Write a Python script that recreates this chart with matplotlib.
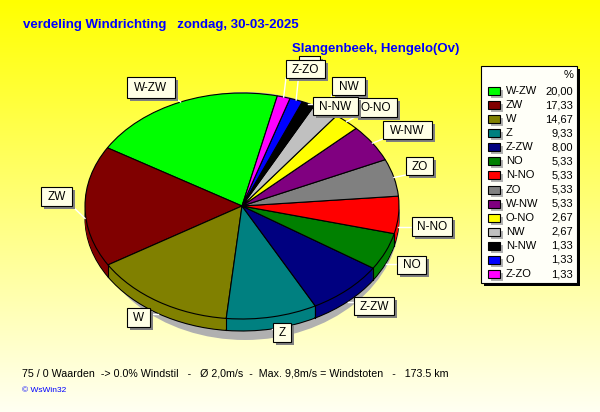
import numpy as np
import matplotlib
matplotlib.use('Agg')
import matplotlib.pyplot as plt
from matplotlib.patches import Rectangle, Ellipse

plt.rcParams['font.family'] = ['Liberation Sans', 'DejaVu Sans']

# ---------------- data ----------------
directions = ['W-ZW', 'ZW', 'W', 'Z', 'Z-ZW', 'NO', 'N-NO', 'ZO', 'W-NW',
              'O-NO', 'NW', 'N-NW', 'O', 'Z-ZO']
percent = [20.00, 17.33, 14.67, 9.33, 8.00, 5.33, 5.33, 5.33, 5.33,
           2.67, 2.67, 1.33, 1.33, 1.33]
colors = ['#00FF00', '#800000', '#808000', '#008080', '#000080', '#008000',
          '#FF0000', '#808080', '#800080', '#FFFF00', '#C0C0C0', '#000000',
          '#0000FF', '#FF00FF']
title = 'verdeling Windrichting   zondag, 30-03-2025'
subtitle = 'Slangenbeek, Hengelo(Ov)'
footer = ('75 / 0 Waarden  -> 0.0% Windstil   -   \u00d8 2,0m/s  -  '
          'Max. 9,8m/s = Windstoten   -   173.5 km')
credit = '\u00a9 WsWin32'

# ---------------- layout (pixels) ----------------
W, H = 600, 412
CX, CY, RX, RY = 242, 206, 157, 113
DEPTH = 12
START = 77
LABEL_BOX = {
    'W-ZW': (127, 77, 175, 98), 'ZW': (41, 187, 72, 206),
    'W': (127, 308, 150, 327), 'Z': (273, 323, 291, 342),
    'Z-ZW': (354, 297, 394, 315), 'NO': (397, 256, 426, 274),
    'N-NO': (412, 217, 452, 236), 'ZO': (406, 157, 433, 175),
    'W-NW': (383, 121, 432, 139), 'O-NO': (355, 98, 397, 117),
    'NW': (332, 77, 365, 95), 'N-NW': (313, 97, 358, 115),
    'O': (299, 56, 320, 72), 'Z-ZO': (286, 60, 325, 78),
}
HIDDEN_TEXT = {'O'}   # fully covered by the Z-ZO box in the reference

fig = plt.figure(figsize=(W / 100, H / 100), dpi=100)

# background gradient
axbg = fig.add_axes([0, 0, 1, 1], zorder=0)
t = np.linspace(0, 1, 256)[:, None]
top = np.array([1.0, 1.0, 0.0])
bot = np.array([1.0, 1.0, 0.95])
grad = top[None, None, :] * (1 - t[..., None]) + bot[None, None, :] * t[..., None]
grad = np.repeat(grad, 2, axis=1)
axbg.imshow(grad, aspect='auto', extent=[0, 1, 0, 1], origin='upper')
axbg.set_xlim(0, 1); axbg.set_ylim(0, 1)
axbg.axis('off')

# pie axes (unit circle stretched to ellipse)
axp = fig.add_axes([0, 0, 1, 1], zorder=1)
axp.set_facecolor('none')
axp.add_patch(Ellipse(((245 - CX) / RX, -(216 - CY) / RY), 2 * 155 / RX,
                      2 * 124 / RY, color='#B0B0B0', lw=0))
for k in range(DEPTH, 0, -1):
    lw = 0.8 if k == DEPTH else 0
    axp.pie(percent, colors=colors, startangle=START, counterclock=True,
            center=(0, -k / RY), wedgeprops=dict(linewidth=lw, edgecolor='black'))
cum = START + np.concatenate([[0], np.cumsum(percent) / sum(percent) * 360])
for a in cum[:-1]:
    r = np.deg2rad(a)
    if np.sin(r) < 0:
        axp.plot([np.cos(r)] * 2, [np.sin(r), np.sin(r) - DEPTH / RY],
                 color='black', lw=0.8)
axp.pie(percent, colors=colors, startangle=START, counterclock=True,
        wedgeprops=dict(linewidth=0.8, edgecolor='black'))
axp.set_xlim(-CX / RX, (W - CX) / RX)
axp.set_ylim((CY - H) / RY, CY / RY)
axp.set_aspect('auto')
axp.axis('off')

# overlay in pixel coordinates
axo = fig.add_axes([0, 0, 1, 1], zorder=2)
axo.set_facecolor('none')
axo.set_xlim(0, W); axo.set_ylim(H, 0)
axo.axis('off')

mids = (cum[:-1] + cum[1:]) / 2
for name, m in zip(directions, mids):
    r = np.deg2rad(m)
    px, py = CX + RX * np.cos(r), CY - RY * np.sin(r)
    if np.sin(r) < 0:
        py += DEPTH
    x0, y0, x1, y1 = LABEL_BOX[name]
    bx, by = min(max(px, x0), x1), min(max(py, y0), y1)
    axo.plot([px, bx], [py, by], color='white', lw=1, zorder=1)

for i, name in enumerate(directions):
    z = 2 + i * 0.01
    x0, y0, x1, y1 = LABEL_BOX[name]
    axo.add_patch(Rectangle((x0 + 3, y0 + 3), x1 - x0, y1 - y0,
                            facecolor='#808080', lw=0, zorder=z))
    axo.add_patch(Rectangle((x0, y0), x1 - x0, y1 - y0, facecolor='#FFFFE6',
                            edgecolor='black', lw=0.8, zorder=z + 0.001))
    if name not in HIDDEN_TEXT:
        axo.text((x0 + x1) / 2, (y0 + y1) / 2 + 0.5, name, ha='center',
                 va='center', fontsize=8.5, zorder=z + 0.002)

# legend
LX0, LY0, LX1, LY1 = 481, 66, 577, 283
axo.add_patch(Rectangle((LX0 + 3, LY0 + 3), LX1 - LX0, LY1 - LY0,
                        facecolor='black', lw=0, zorder=3))
axo.add_patch(Rectangle((LX0, LY0), LX1 - LX0, LY1 - LY0, facecolor='#FFFFF8',
                        edgecolor='black', lw=0.8, zorder=3.01))
axo.text(569, 75, '%', ha='center', va='center', fontsize=8, zorder=4)
for i, (name, val, c) in enumerate(zip(directions, percent, colors)):
    y = 91 + i * 14.08
    axo.add_patch(Rectangle((491, y - 1), 12, 8, facecolor='#B0B0B0', lw=0, zorder=4))
    axo.add_patch(Rectangle((488, y - 4), 12, 8, facecolor=c, edgecolor='black',
                            lw=0.8, zorder=4.01))
    axo.text(506, y, name, ha='left', va='center', fontsize=8, zorder=4.02)
    axo.text(573, y, f'{val:.2f}'.replace('.', ','), ha='right', va='center',
             fontsize=8, zorder=4.02)

axo.text(23, 25, title, color='#0000FF', fontsize=9.5, fontweight='bold',
         va='center', ha='left')
axo.text(459, 49, subtitle, color='#0000FF', fontsize=9.5, fontweight='bold',
         va='center', ha='right')
axo.text(22, 374, footer, fontsize=7.7, va='center', ha='left')
axo.text(22, 391, credit, fontsize=6, va='center', ha='left', color='#0000FF')

fig.savefig('out.png', dpi=100)
